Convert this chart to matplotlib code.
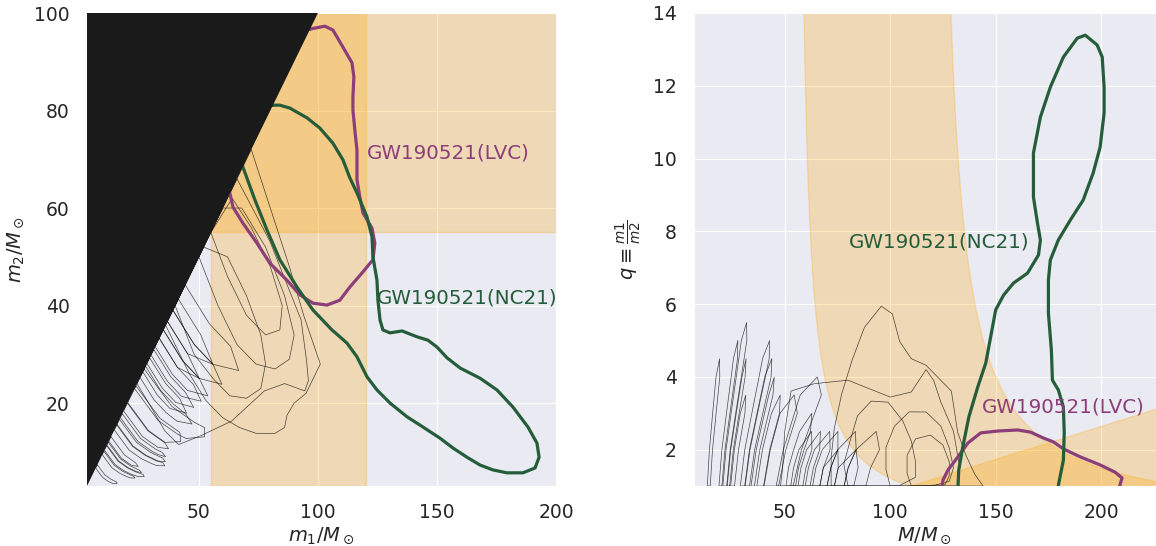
import numpy as np
import matplotlib
matplotlib.use("Agg")
import matplotlib.pyplot as plt
import seaborn as sns

sns.set_style("darkgrid")
plt.rcParams['font.family'] = ['DejaVu Sans']

# mass gap bounds (M_sun)
gap_lo, gap_hi = 55, 120

# GW190521 contours
lvc_m1m2 = [(96.6, 96.7), (102.9, 97.3), (106.3, 96.5), (110.5, 93.0), (114.3, 89.8),
            (115.1, 86.9), (114.7, 82.8), (114.7, 80.1), (115.5, 76.0), (116.4, 71.9),
            (116.4, 65.8), (117.6, 62.3), (118.9, 59.0), (122.7, 55.9), (123.9, 52.8),
            (123.1, 49.4), (118.9, 46.9), (113.4, 43.8), (109.2, 41.1), (103.8, 40.1),
            (97.9, 40.5), (92.4, 42.2), (87.0, 45.2), (79.8, 48.7), (74.4, 52.8),
            (68.5, 56.9), (64.3, 60.2), (63.0, 63.1), (60, 70), (70, 85), (85, 95)]

nc21_m1m2 = [(81.1, 81.1), (84.0, 81.1), (88.2, 80.5), (95.4, 78.5), (100.8, 76.4),
             (106.3, 73.3), (110.5, 69.9), (113.4, 66.2), (116.4, 63.1), (120.6, 58.2),
             (122.7, 54.1), (123.1, 50.0), (124.8, 45.2), (125.2, 41.1), (126.1, 37.0),
             (127.3, 35.0), (130.3, 34.4), (135.3, 34.8), (141.6, 33.6), (146.2, 32.9),
             (150.0, 31.5), (154.2, 29.3), (159.7, 27.2), (168.1, 25.1), (175.2, 22.7),
             (181.9, 19.2), (188.2, 15.1), (192.0, 11.8), (192.9, 8.9), (191.2, 6.7),
             (186.1, 5.7), (179.4, 5.7), (173.5, 6.3), (168.1, 7.3), (162.6, 8.9),
             (156.7, 10.8), (151.3, 12.8), (144.1, 15.1), (137.4, 17.2), (130.3, 20.0),
             (124.8, 22.7), (120.6, 25.4), (116.4, 29.5), (112.2, 32.3), (109.2, 33.6),
             (105.9, 35.0), (97.9, 39.1), (91.2, 43.8), (84.0, 49.4), (78.6, 55.5),
             (73.5, 61.7), (68.5, 68.4), (65, 75), (75, 82)]

lvc_Mq = [(124.5, 0.85), (125.0, 1.16), (127.4, 1.44), (132.1, 1.80), (136.8, 2.18),
          (142.9, 2.46), (150.9, 2.51), (160.4, 2.54), (166.5, 2.48), (172.6, 2.32),
          (177.4, 2.21), (182.1, 2.02), (190.1, 1.80), (199.5, 1.58), (206.6, 1.38),
          (209.9, 1.22), (208.0, 0.85)]

nc21_Mq = [(179.0, 0.8), (180.2, 1.16), (182.1, 1.71), (182.5, 2.46), (182.1, 3.17),
           (179.7, 3.64), (176.9, 3.91), (176.4, 4.74), (175.0, 5.75), (175.0, 6.66),
           (175.9, 7.21), (179.7, 7.76), (185.4, 8.31), (191.5, 8.86), (196.2, 9.60),
           (199.5, 10.31), (201.4, 11.25), (201.4, 11.96), (200.5, 12.79), (198.1, 13.12),
           (192.5, 13.39), (188.7, 13.31), (182.1, 12.79), (175.9, 11.96), (171.2, 11.14),
           (167.9, 10.15), (167.9, 8.94), (169.8, 8.23), (171.2, 7.76), (170.3, 7.35),
           (165.1, 6.85), (158.5, 6.58), (153.8, 6.25), (150.0, 5.84), (147.6, 5.09),
           (145.3, 4.38), (141.5, 3.72), (137.3, 2.90), (134.4, 2.07), (132.5, 1.44),
           (132.0, 0.8)]

# other catalogue events, 90% contours in (m1, m2)
catalog_m1m2 = [
    [(7.35, 7.35), (10.52, 5.26), (13.11, 4.37), (15.37, 3.85), (15.65, 3.48), (13.93, 3.49),
     (11.88, 3.96), (9.54, 4.77), (6.66, 6.66)],
    [(10.11, 10.11), (14.47, 7.23), (18.02, 6.01), (21.14, 5.29), (22.58, 5.02), (23.15, 4.63),
     (21.04, 4.67), (19.70, 4.93), (16.79, 5.60), (13.48, 6.74), (9.42, 9.42)],
    [(11.26, 11.26), (16.11, 8.06), (20.07, 6.69), (23.54, 5.89), (26.70, 5.34), (27.03, 4.92),
     (24.52, 4.91), (21.62, 5.41), (18.43, 6.15), (14.80, 7.40), (10.34, 10.34)],
    [(11.95, 11.95), (17.10, 8.55), (21.30, 7.10), (24.98, 6.25), (25.92, 5.76), (23.78, 5.95),
     (20.28, 6.76), (16.28, 8.14), (11.38, 11.38)],
    [(13.10, 13.10), (18.74, 9.37), (23.35, 7.79), (24.53, 7.01), (21.71, 7.24), (17.43, 8.71),
     (12.18, 12.18)],
    [(15.63, 15.63), (22.36, 11.18), (27.85, 9.29), (32.67, 8.17), (34.90, 7.75), (35.68, 7.14),
     (32.33, 7.18), (30.27, 7.57), (25.80, 8.61), (20.71, 10.36), (14.48, 14.48)],
    [(16.66, 16.66), (23.84, 11.92), (29.70, 9.90), (34.83, 8.71), (35.92, 7.98), (32.43, 8.11),
     (27.65, 9.22), (22.19, 11.10), (15.51, 15.51)],
    [(17.81, 17.81), (25.48, 12.74), (31.74, 10.59), (34.57, 9.87), (36.03, 9.02), (33.00, 9.43),
     (30.31, 10.11), (24.33, 12.17), (17.01, 17.01)],
    [(19.99, 19.99), (28.61, 14.30), (35.64, 11.88), (37.24, 10.64), (32.77, 10.93), (26.30, 13.15),
     (18.38, 18.38)],
    [(23.55, 23.55), (33.70, 16.85), (41.98, 14.00), (42.37, 12.10), (35.84, 11.95), (28.77, 14.39),
     (20.11, 20.11)],
    [(27.00, 27.00), (38.63, 19.32), (48.13, 16.05), (52.41, 14.97), (52.36, 13.10), (44.60, 12.74),
     (40.96, 13.66), (32.88, 16.44), (22.98, 22.98)],
    [(27.58, 27.58), (33.91, 22.61), (39.46, 19.73), (44.47, 17.78), (47.10, 15.71), (40.77, 16.30),
     (36.17, 18.08), (31.09, 20.72), (25.28, 25.28)],
    [(29.30, 29.30), (36.03, 24.02), (41.92, 20.96), (44.84, 17.93), (37.81, 18.91), (32.50, 21.67),
     (26.43, 26.43)],
    [(31.02, 31.02), (38.15, 25.43), (44.39, 22.19), (47.81, 19.12), (40.28, 20.14), (34.62, 23.08),
     (28.15, 28.15)],
    [(33.32, 33.32), (40.98, 27.32), (47.68, 23.84), (50.96, 20.38), (42.74, 21.37), (36.74, 24.49),
     (29.87, 29.87)],
    [(35.04, 35.04), (43.10, 28.73), (50.14, 25.07), (53.74, 21.49), (45.21, 22.61), (38.86, 25.91),
     (31.60, 31.60)],
    [(36.77, 36.77), (45.22, 30.14), (50.14, 25.07), (40.98, 27.32), (33.32, 33.32)],
    [(39.07, 39.07), (48.04, 32.03), (55.90, 27.95), (59.67, 23.86), (50.14, 25.07), (43.10, 28.73),
     (35.04, 35.04)],
    [(41.36, 41.36), (50.87, 33.91), (55.90, 27.95), (45.22, 30.14), (36.77, 36.77)],
    [(44.24, 44.24), (54.40, 36.27), (63.29, 31.65), (66.71, 26.68), (55.90, 27.95), (48.04, 32.03),
     (39.07, 39.07)],
    [(36, 36), (46, 26), (53, 20.5), (60, 17), (67, 15), (74, 13.8), (82, 13.8), (86, 15),
     (87, 17.5), (90, 20), (95, 22), (101, 28), (94, 38), (88, 48), (80, 60), (72, 72)],
    [(24, 24), (29.4, 19.6), (35.7, 14.3), (41.5, 11.5), (50.7, 13.3), (63.7, 16.3), (77.5, 22.5),
     (86, 24), (94.5, 22.5), (96, 24.6), (95.2, 28.8), (92.9, 37.1), (79.8, 53.2), (66, 66)],
    [(40, 40), (48, 30), (56, 25), (63, 21.5), (70, 21), (76, 23), (78, 28), (76, 34), (70, 42),
     (62, 50), (52, 52)],
    [(50, 50), (58, 40), (66, 32), (74, 28), (82, 27), (88, 29), (90, 34), (86, 42), (78, 52),
     (68, 60), (60, 60)],
    [(55, 55), (62, 46), (70, 38), (78, 34), (84, 35), (85, 40), (80, 48), (72, 56), (64, 62)],
]

purple = '#8C3E79'
green = '#255D3B'
band = 'orange'


def closed(pts):
    a = np.array(list(pts) + [pts[0]], dtype=float)
    return a[:, 0], a[:, 1]


fig = plt.figure(figsize=(11.56, 5.46), dpi=100)
ax1 = fig.add_axes([87 / 1156, 60 / 546, 469 / 1156, 473 / 546])
ax2 = fig.add_axes([694 / 1156, 60 / 546, 462 / 1156, 473 / 546])

# ---- left panel: m1 vs m2
ax1.axvspan(gap_lo, gap_hi, color=band, alpha=0.25, zorder=1)
ax1.axhspan(gap_lo, gap_hi, color=band, alpha=0.25, zorder=1)
for loop in catalog_m1m2:
    x, y = closed(loop)
    ax1.plot(x, y, color='k', lw=0.5, alpha=0.7, zorder=2)
x, y = closed(lvc_m1m2)
ax1.plot(x, y, color=purple, lw=2.3, zorder=3)
x, y = closed(nc21_m1m2)
ax1.plot(x, y, color=green, lw=2.3, zorder=3)
ax1.fill_between([-10, 110], [-10, 110], [110, 110], color='#1a1a1a', lw=0, zorder=5)
ax1.text(120.5, 71.3, 'GW190521(LVC)', color=purple, fontsize=14.3, va='center', zorder=6)
ax1.text(124.8, 41.6, 'GW190521(NC21)', color=green, fontsize=14.3, va='center', zorder=6)
ax1.set_xlim(3, 200)
ax1.set_ylim(3, 100)
ax1.set_xticks([50, 100, 150, 200])
ax1.set_yticks([20, 40, 60, 80, 100])
ax1.set_xlabel(r'$m_1/M_\odot$', fontsize=14, labelpad=2)
ax1.set_ylabel(r'$m_2/M_\odot$', fontsize=14, labelpad=6)

# ---- right panel: total mass vs mass ratio
qq = np.linspace(0.95, 14.5, 400)
ax2.fill_betweenx(qq, gap_lo * (1 + qq) / qq, gap_hi * (1 + qq) / qq, color=band, alpha=0.25, zorder=1)
ax2.fill_betweenx(qq, gap_lo * (1 + qq), gap_hi * (1 + qq), color=band, alpha=0.25, zorder=1)
for loop in catalog_m1m2:
    m1, m2 = closed(loop)
    ax2.plot(m1 + m2, m1 / m2, color='k', lw=0.5, alpha=0.7, zorder=2)
x, y = closed(lvc_Mq)
ax2.plot(x, y, color=purple, lw=2.3, zorder=3)
x, y = closed(nc21_Mq)
ax2.plot(x, y, color=green, lw=2.3, zorder=3)
ax2.text(80.2, 7.7, 'GW190521(NC21)', color=green, fontsize=14.3, va='center', zorder=6)
ax2.text(143.4, 3.17, 'GW190521(LVC)', color=purple, fontsize=14.3, va='center', zorder=6)
ax2.set_xlim(7, 226)
ax2.set_ylim(1, 14)
ax2.set_xticks([50, 100, 150, 200])
ax2.set_yticks([2, 4, 6, 8, 10, 12, 14])
ax2.set_xlabel(r'$M/M_\odot$', fontsize=14, labelpad=2)
ax2.set_ylabel(r'$q\equiv\frac{m1}{m2}$', fontsize=14, labelpad=6)

for ax in (ax1, ax2):
    ax.tick_params(labelsize=13.5, pad=9)

fig.savefig('out.png', dpi=100)
